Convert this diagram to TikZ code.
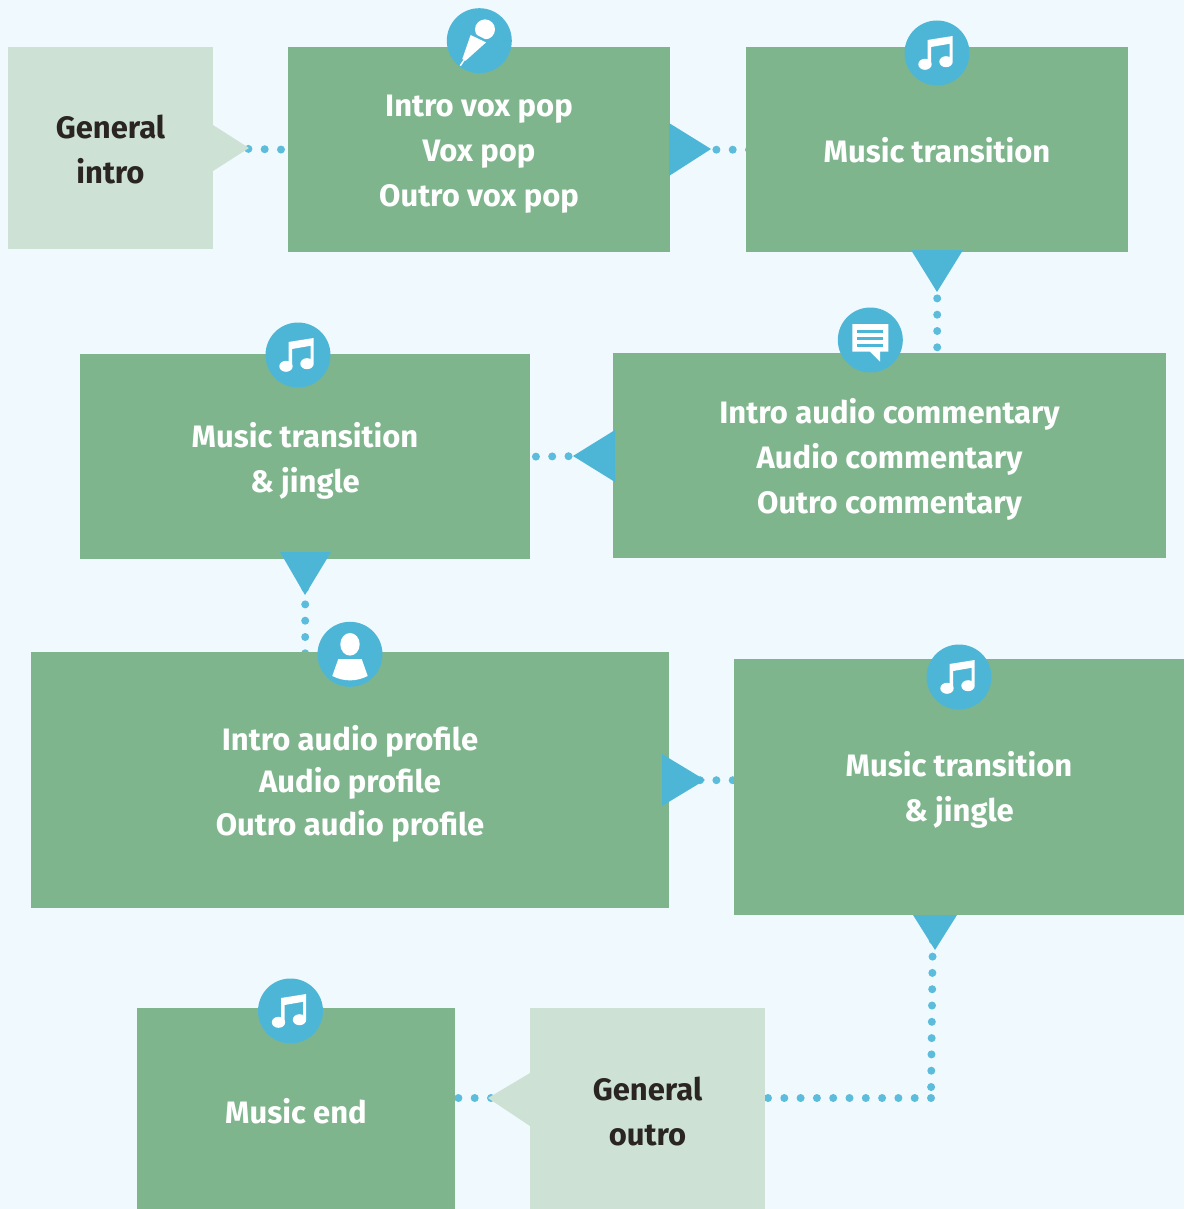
\documentclass[tikz,border=0pt]{standalone}
\usepackage{fontspec}
\setmainfont{Fira Sans}
\usetikzlibrary{backgrounds}
\definecolor{pagebg}{HTML}{F0F9FD}
\definecolor{boxgreen}{HTML}{7FB58D}
\definecolor{boxlight}{HTML}{CDE2D4}
\definecolor{tipblue}{HTML}{4DB6D6}
\definecolor{dotblue}{HTML}{5BBCDB}
\definecolor{darktext}{HTML}{2A2522}
\tikzset{
	greenbox/.style={anchor=north west,inner sep=0pt,fill=boxgreen},
	lightbox/.style={anchor=north west,inner sep=0pt,fill=boxlight},
	boxtext/.style={inner sep=0pt,align=center,text=white,font=\fontsize{31}{45}\selectfont\bfseries},
	darkbox/.style={boxtext,text=darktext},
	badge/.style={circle,fill=tipblue,inner sep=0pt,minimum size=65pt},
	tip/.style={fill=tipblue},
	dotline/.style={draw=dotblue,line width=8pt,line cap=round,dash pattern=on 0pt off 16.3pt,shorten >=-4pt}
}
\newcommand{\noteicon}[1]% badge
{\fill[white,shift={(#1)}] (-9.5,-13) -- (15.7,-17) -- (15.7,8.7) -- (12.5,8.7) -- (12.5,-9.2) -- (-6,-6) -- (-6,11.3) -- (-9.5,11.3) -- cycle
	(-12,11.3) ellipse (6.7 and 5.5) (9,8.7) ellipse (6.7 and 5.5);
}
\newcommand{\micicon}[1]% badge
{\fill[white,shift={(#1)}] (5.7,-11.3) circle (10) (-8.7,-5.7) -- (6.7,1.7) -- (-13.7,20) -- (-17,18.3) -- cycle;
	\draw[tipblue,line width=1.5pt,shift={(#1)}] (-8,-7.5) -- (7,0);
	\draw[white,line width=1.5pt,shift={(#1)}] (-15,19) -- (-19,25);
}
\newcommand{\talkicon}[1]% badge
{\fill[white,shift={(#1)}] (-18,-16) rectangle (18,11.7) (-0.3,11.7) -- (9.7,21.7) -- (9.7,11.7) -- cycle;
	\foreach \liney in {-8.7,-1.7,5.3}
		\draw[tipblue,line width=3pt,shift={(#1)}] (-13.7,\liney) -- (13,\liney);
}
\newcommand{\personicon}[1]% badge
{\fill[white,shift={(#1)}] (0,-10) ellipse (9.7 and 11.3) (-11.7,4.7) -- (11.7,4.7) -- (17.7,21.7) .. controls (6,27.5) and (-6,27.5) .. (-17.7,21.7) -- cycle;
}

\begin{document}
\begin{tikzpicture}[x=1pt,y=-1pt]
	\useasboundingbox (0,0) rectangle (1184,1209);
	\node[lightbox,minimum width=205pt,minimum height=202pt] (intro) at (8,47){};
	\node[greenbox,minimum width=382pt,minimum height=205pt] (voxpop) at (288,47){};
	\node[greenbox,minimum width=382pt,minimum height=205pt] (transa) at (746,47){};
	\node[greenbox,minimum width=553pt,minimum height=205pt] (comment) at (613,353){};
	\node[greenbox,minimum width=450pt,minimum height=205pt] (transb) at (80,354){};
	\node[greenbox,minimum width=638pt,minimum height=256pt] (profile) at (31,652){};
	\node[greenbox,minimum width=450pt,minimum height=256pt] (transc) at (734,659){};
	\node[lightbox,minimum width=235pt,minimum height=201pt] (outro) at (530,1008){};
	\node[greenbox,minimum width=318pt,minimum height=201pt] (musicend) at (137,1008){};
	\node[darkbox] (introtext) at (110.5,149){General\\intro};
	\node[boxtext] (voxpoptext) at (479,154.5){Intro vox pop\\Vox pop\\Outro vox pop};
	\node[boxtext] (transatext) at (937,150.5){Music transition};
	\node[boxtext] (commenttext) at (889.5,459){Intro audio commentary\\Audio commentary\\Outro commentary};
	\node[boxtext] (transbtext) at (305,460.5){Music transition\\\& jingle};
	\node[boxtext,font=\fontsize{31}{42.5}\selectfont\bfseries] (profiletext) at (350,783.5){Intro audio profile\\Audio profile\\Outro audio profile};
	\node[boxtext] (transctext) at (959,790){Music transition\\\& jingle};
	\node[darkbox] (outrotext) at (647.5,1111.5){General\\outro};
	\node[boxtext] (musicendtext) at (296,1111.5){Music end};
	\coordinate (corner) at (931,1098);
	\coordinate (tipf) at (933,915);
	\begin{pgfonlayer}{background}
		\fill[pagebg] (0,0) rectangle (1184,1209);
		\draw[dotline,dash phase=13.9pt] (intro.east) -- (voxpop.west);
		\draw[dotline,dash phase=2.9pt] (voxpop.east) -- (transa.west);
		\draw[dotline,dash phase=2.9pt] (transa.south) -- (transa.south |- comment.north);
		\draw[dotline,dash phase=4.4pt] (comment.west) -- (transb.east);
		\draw[dotline,dash phase=3.9pt] (transb.south) -- (transb.south |- profile.north);
		\draw[dotline,dash phase=1.9pt] (profile.east) -- (profile.east -| transc.west);
		\draw[dotline,dash phase=5.3pt] (corner) -- (tipf);%up to the last tip
		\draw[dotline] (corner) -- (corner -| outro.east);
		\draw[dotline,dash phase=9.9pt] (corner -| outro.west) -- (corner -| musicend.east);
	\end{pgfonlayer}
	\fill[boxlight] (213,125) -- (249,148) -- (213,171) -- cycle;%tails
	\fill[boxlight] (530,1073) -- (488,1098) -- (530,1126) -- cycle;
	\fill[tip] (669,123) -- (711,149) -- (669,176) -- cycle;
	\fill[tip] (911,250) -- (963,250) -- (937,292) -- cycle;
	\fill[tip] (615,430) -- (615,482) -- (573,456) -- cycle;
	\fill[tip] (280,552) -- (331,552) -- (305,595) -- cycle;
	\fill[tip] (662,754) -- (662,806) -- (705,780) -- cycle;
	\fill[tip] (913,915) -- (957,915) -- (935,950) -- cycle;
	\node[badge] (mic) at (479.3,40.7){};
	\node[badge] (notea) at (937,53){};
	\node[badge] (talk) at (870.3,340){};
	\node[badge] (noteb) at (298,355){};
	\node[badge] (person) at (350,654.3){};
	\node[badge] (notec) at (959,677){};
	\node[badge] (noted) at (290.5,1011){};
	\micicon{mic}
	\noteicon{notea}
	\talkicon{talk}
	\noteicon{noteb}
	\personicon{person}
	\noteicon{notec}
	\noteicon{noted}
\end{tikzpicture}
\end{document}
